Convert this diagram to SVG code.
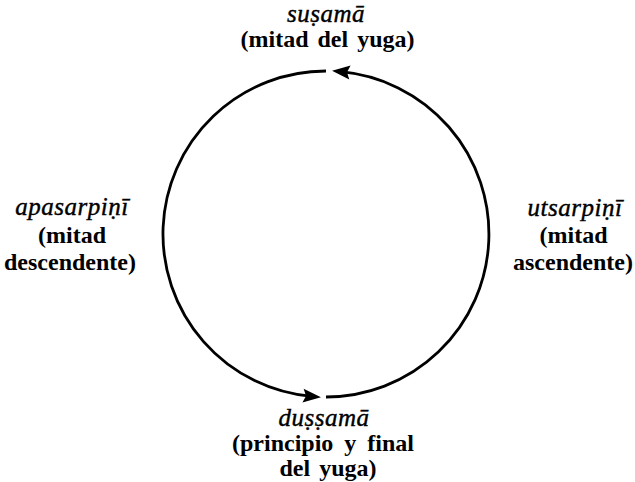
<svg xmlns="http://www.w3.org/2000/svg" width="635" height="482" viewBox="0 0 635 482">
<style>
  .t { font-family: "Liberation Serif", "Times New Roman", serif; font-size: 24px; font-weight: bold; fill: #000; text-anchor: middle; }
  .i { font-size: 25px; font-style: italic; font-weight: normal; letter-spacing: 0.5px; stroke: #000; stroke-width: 0.4; }
  .arc { fill: none; stroke: #000; stroke-width: 2.8; }
</style>
<defs>
  <marker id="ah" markerUnits="userSpaceOnUse" markerWidth="22" markerHeight="16" viewBox="0 -8 19 16" refX="9" refY="0" orient="auto">
    <path d="M0,-7 L18,0 L0,7 L3,0 Z" fill="#000"/>
  </marker>
</defs>
<rect width="635" height="482" fill="#fff"/>
<g id="connectors">
  <path class="arc" d="M 326 71 A 163 163 0 0 0 312 396.4" marker-end="url(#ah)"/>
  <path class="arc" d="M 326 397 A 163 163 0 0 0 341 71.7" marker-end="url(#ah)"/>
</g>
<g id="top">
  <text class="t i" x="326" y="22">suṣamā</text>
  <text class="t" x="327.5" y="47" word-spacing="3">(mitad del yuga)</text>
</g>
<g id="left">
  <text class="t i" x="72" y="215">apasarpiṇī</text>
  <text class="t" x="72" y="243">(mitad</text>
  <text class="t" x="70" y="270">descendente)</text>
</g>
<g id="right">
  <text class="t i" x="575" y="216">utsarpiṇī</text>
  <text class="t" x="573.5" y="243">(mitad</text>
  <text class="t" x="573" y="270">ascendente)</text>
</g>
<g id="bottom">
  <text class="t i" x="324" y="426">duṣṣamā</text>
  <text class="t" x="323" y="451" word-spacing="5">(principio y final</text>
  <text class="t" x="328" y="476" word-spacing="3">del yuga)</text>
</g>
</svg>
